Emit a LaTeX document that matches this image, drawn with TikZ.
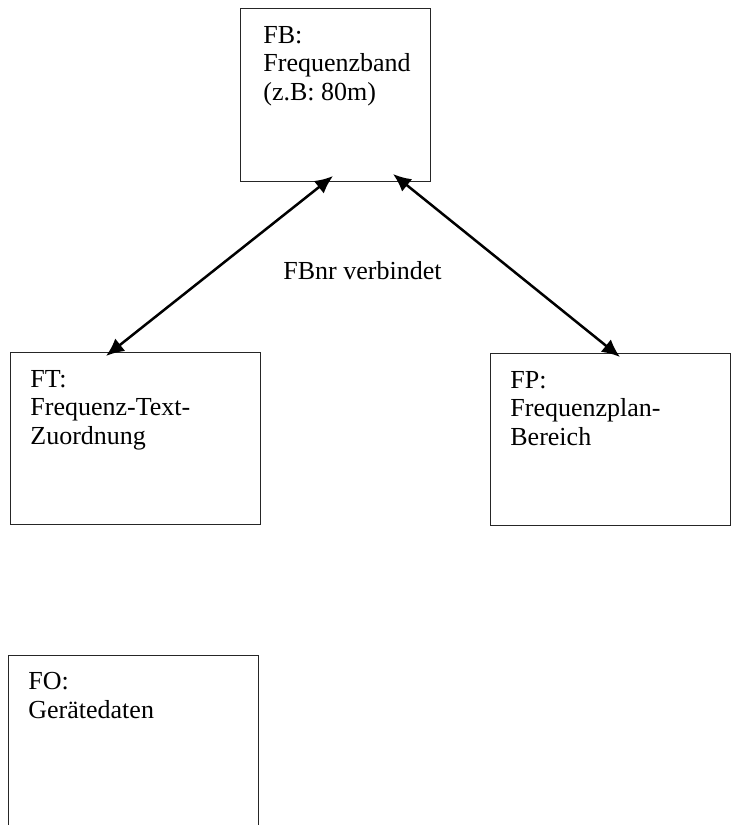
\documentclass[tikz,border=0pt]{standalone}
\usepackage{fontspec}
\setmainfont{Liberation Serif}
\usetikzlibrary{arrows.meta}
\begin{document}
\begin{tikzpicture}[x=0.5pt,y=-0.5pt,
  box/.style={draw=black!85,line width=0.55pt,inner sep=0pt,anchor=north west},
  lbl/.style={anchor=base west,inner sep=0pt,align=left,font=\fontsize{13}{14.25}\selectfont},
  conn/.style={line width=1.25pt,{Latex[length=9pt,width=8pt]}-{Latex[length=9pt,width=8pt]}}]
\clip (0,0) rectangle (731,825);
\fill[white] (0,0) rectangle (731,825);
\node[box,minimum width=95pt,minimum height=86.5pt] (FB) at (240,8) {};
\node[box,minimum width=125pt,minimum height=86pt] (FT) at (10,352) {};
\node[box,minimum width=120pt,minimum height=86pt] (FP) at (490,353) {};
\node[box,minimum width=125pt,minimum height=100pt] (FO) at (8,655) {};
\node[lbl] (tFB) at (263,100) {FB:\\Frequenzband\\(z.B: 80m)};
\node[lbl] (tFT) at (30,444) {FT:\\Frequenz-Text-\\Zuordnung};
\node[lbl] (tFP) at (510,445) {FP:\\Frequenzplan-\\Bereich};
\node[lbl] (tFO) at (28,718) {FO:\\Gerätedaten};
\node[lbl] (rel) at (283,279) {FBnr verbindet};
\coordinate (a1) at (333,176);
\coordinate (a2) at (106,356);
\coordinate (b1) at (393,174);
\coordinate (b2) at (620,357);
\draw[conn] (a1) -- (a2);
\draw[conn] (b1) -- (b2);
\end{tikzpicture}
\end{document}
